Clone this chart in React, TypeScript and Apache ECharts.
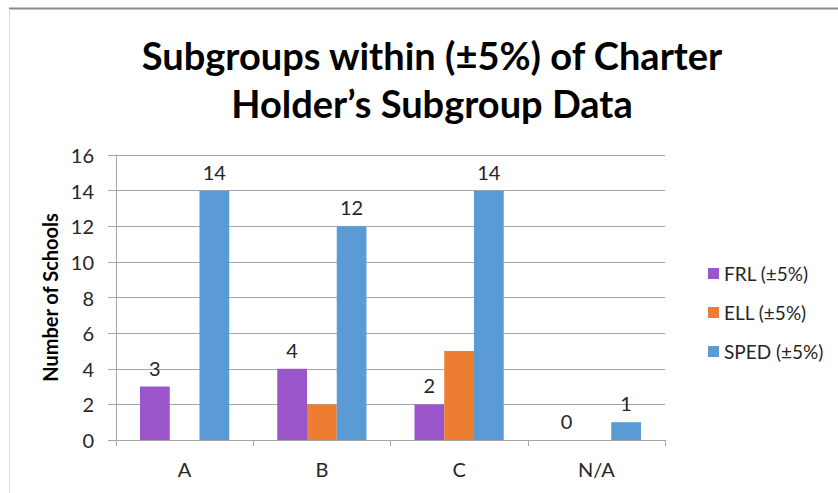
import React, { useEffect, useRef } from "react";
import * as echarts from "echarts";

const categories = ["A", "B", "C", "N/A"];
const seriesNames = ["FRL (±5%)", "ELL (±5%)", "SPED (±5%)"];
const frl = [3, 4, 2, 0];
const ell = [0, 2, 5, 0];
const sped = [14, 12, 14, 1];
const colors = ["#9A55CB", "#ED7D31", "#5B9BD5"];

export default function App() {
  const ref = useRef<HTMLDivElement>(null);
  useEffect(() => {
    document.body.style.margin = "0";
    const chart = echarts.init(ref.current!, null, { renderer: "svg" });
    const font = "Lato, 'Open Sans', sans-serif";
    const labelStyle = {
      show: true,
      position: "top",
      distance: 9,
      color: "#262626",
      fontSize: 20,
      fontFamily: font,
    };
    chart.setOption({
      animation: false,
      backgroundColor: "#ffffff",
      title: {
        text: "Subgroups within (±5%) of Charter\nHolder’s Subgroup Data",
        left: 427,
        textAlign: "center",
        top: 26,
        textStyle: {
          fontFamily: font,
          fontWeight: "bold",
          fontSize: 38,
          lineHeight: 48,
          color: "#000000",
        },
      },
      graphic: [
        { type: "line", shape: { x1: 9, y1: 8.5, x2: 838, y2: 8.5 }, style: { stroke: "#8a8a8a", lineWidth: 2 } },
        { type: "line", shape: { x1: 9.5, y1: 9, x2: 9.5, y2: 493 }, style: { stroke: "#dddddd", lineWidth: 1 } },
      ],
      legend: {
        orient: "vertical",
        left: 703,
        top: 259,
        itemWidth: 11,
        itemHeight: 11,
        itemGap: 20,
        icon: "rect",
        textStyle: { fontSize: 19, color: "#262626", fontFamily: font },
        data: seriesNames,
      },
      grid: { left: 116, right: 173, top: 155, bottom: 53 },
      xAxis: {
        type: "category",
        data: categories,
        axisLine: { lineStyle: { color: "#a6a6a6" } },
        axisTick: { show: true, length: 6, lineStyle: { color: "#a6a6a6" } },
        axisLabel: { fontSize: 20, color: "#262626", margin: 19, fontFamily: font },
      },
      yAxis: {
        type: "value",
        min: 0,
        max: 16,
        interval: 2,
        name: "Number of Schools",
        nameLocation: "middle",
        nameGap: 56,
        nameTextStyle: { fontSize: 20, fontWeight: "bold", color: "#000", fontFamily: font },
        axisLine: { show: true, lineStyle: { color: "#a6a6a6" } },
        axisTick: { show: true, inside: false, length: 8, lineStyle: { color: "#a6a6a6" } },
        axisLabel: { fontSize: 20, color: "#262626", margin: 22, fontFamily: font },
        splitLine: { lineStyle: { color: "#a6a6a6" } },
      },
      series: [
        {
          name: seriesNames[0],
          type: "bar",
          data: frl,
          itemStyle: { color: colors[0] },
          barGap: "0%",
          barCategoryGap: "35%",
          label: labelStyle,
        },
        {
          name: seriesNames[1],
          type: "bar",
          data: ell,
          itemStyle: { color: colors[1] },
          barGap: "0%",
          barCategoryGap: "35%",
        },
        {
          name: seriesNames[2],
          type: "bar",
          data: sped,
          itemStyle: { color: colors[2] },
          barGap: "0%",
          barCategoryGap: "35%",
          label: labelStyle,
        },
      ],
    });
    return () => chart.dispose();
  }, []);
  return (
    <div
      ref={ref}
      style={{ position: "absolute", left: 0, top: 0, width: 838, height: 493 }}
    />
  );
}
